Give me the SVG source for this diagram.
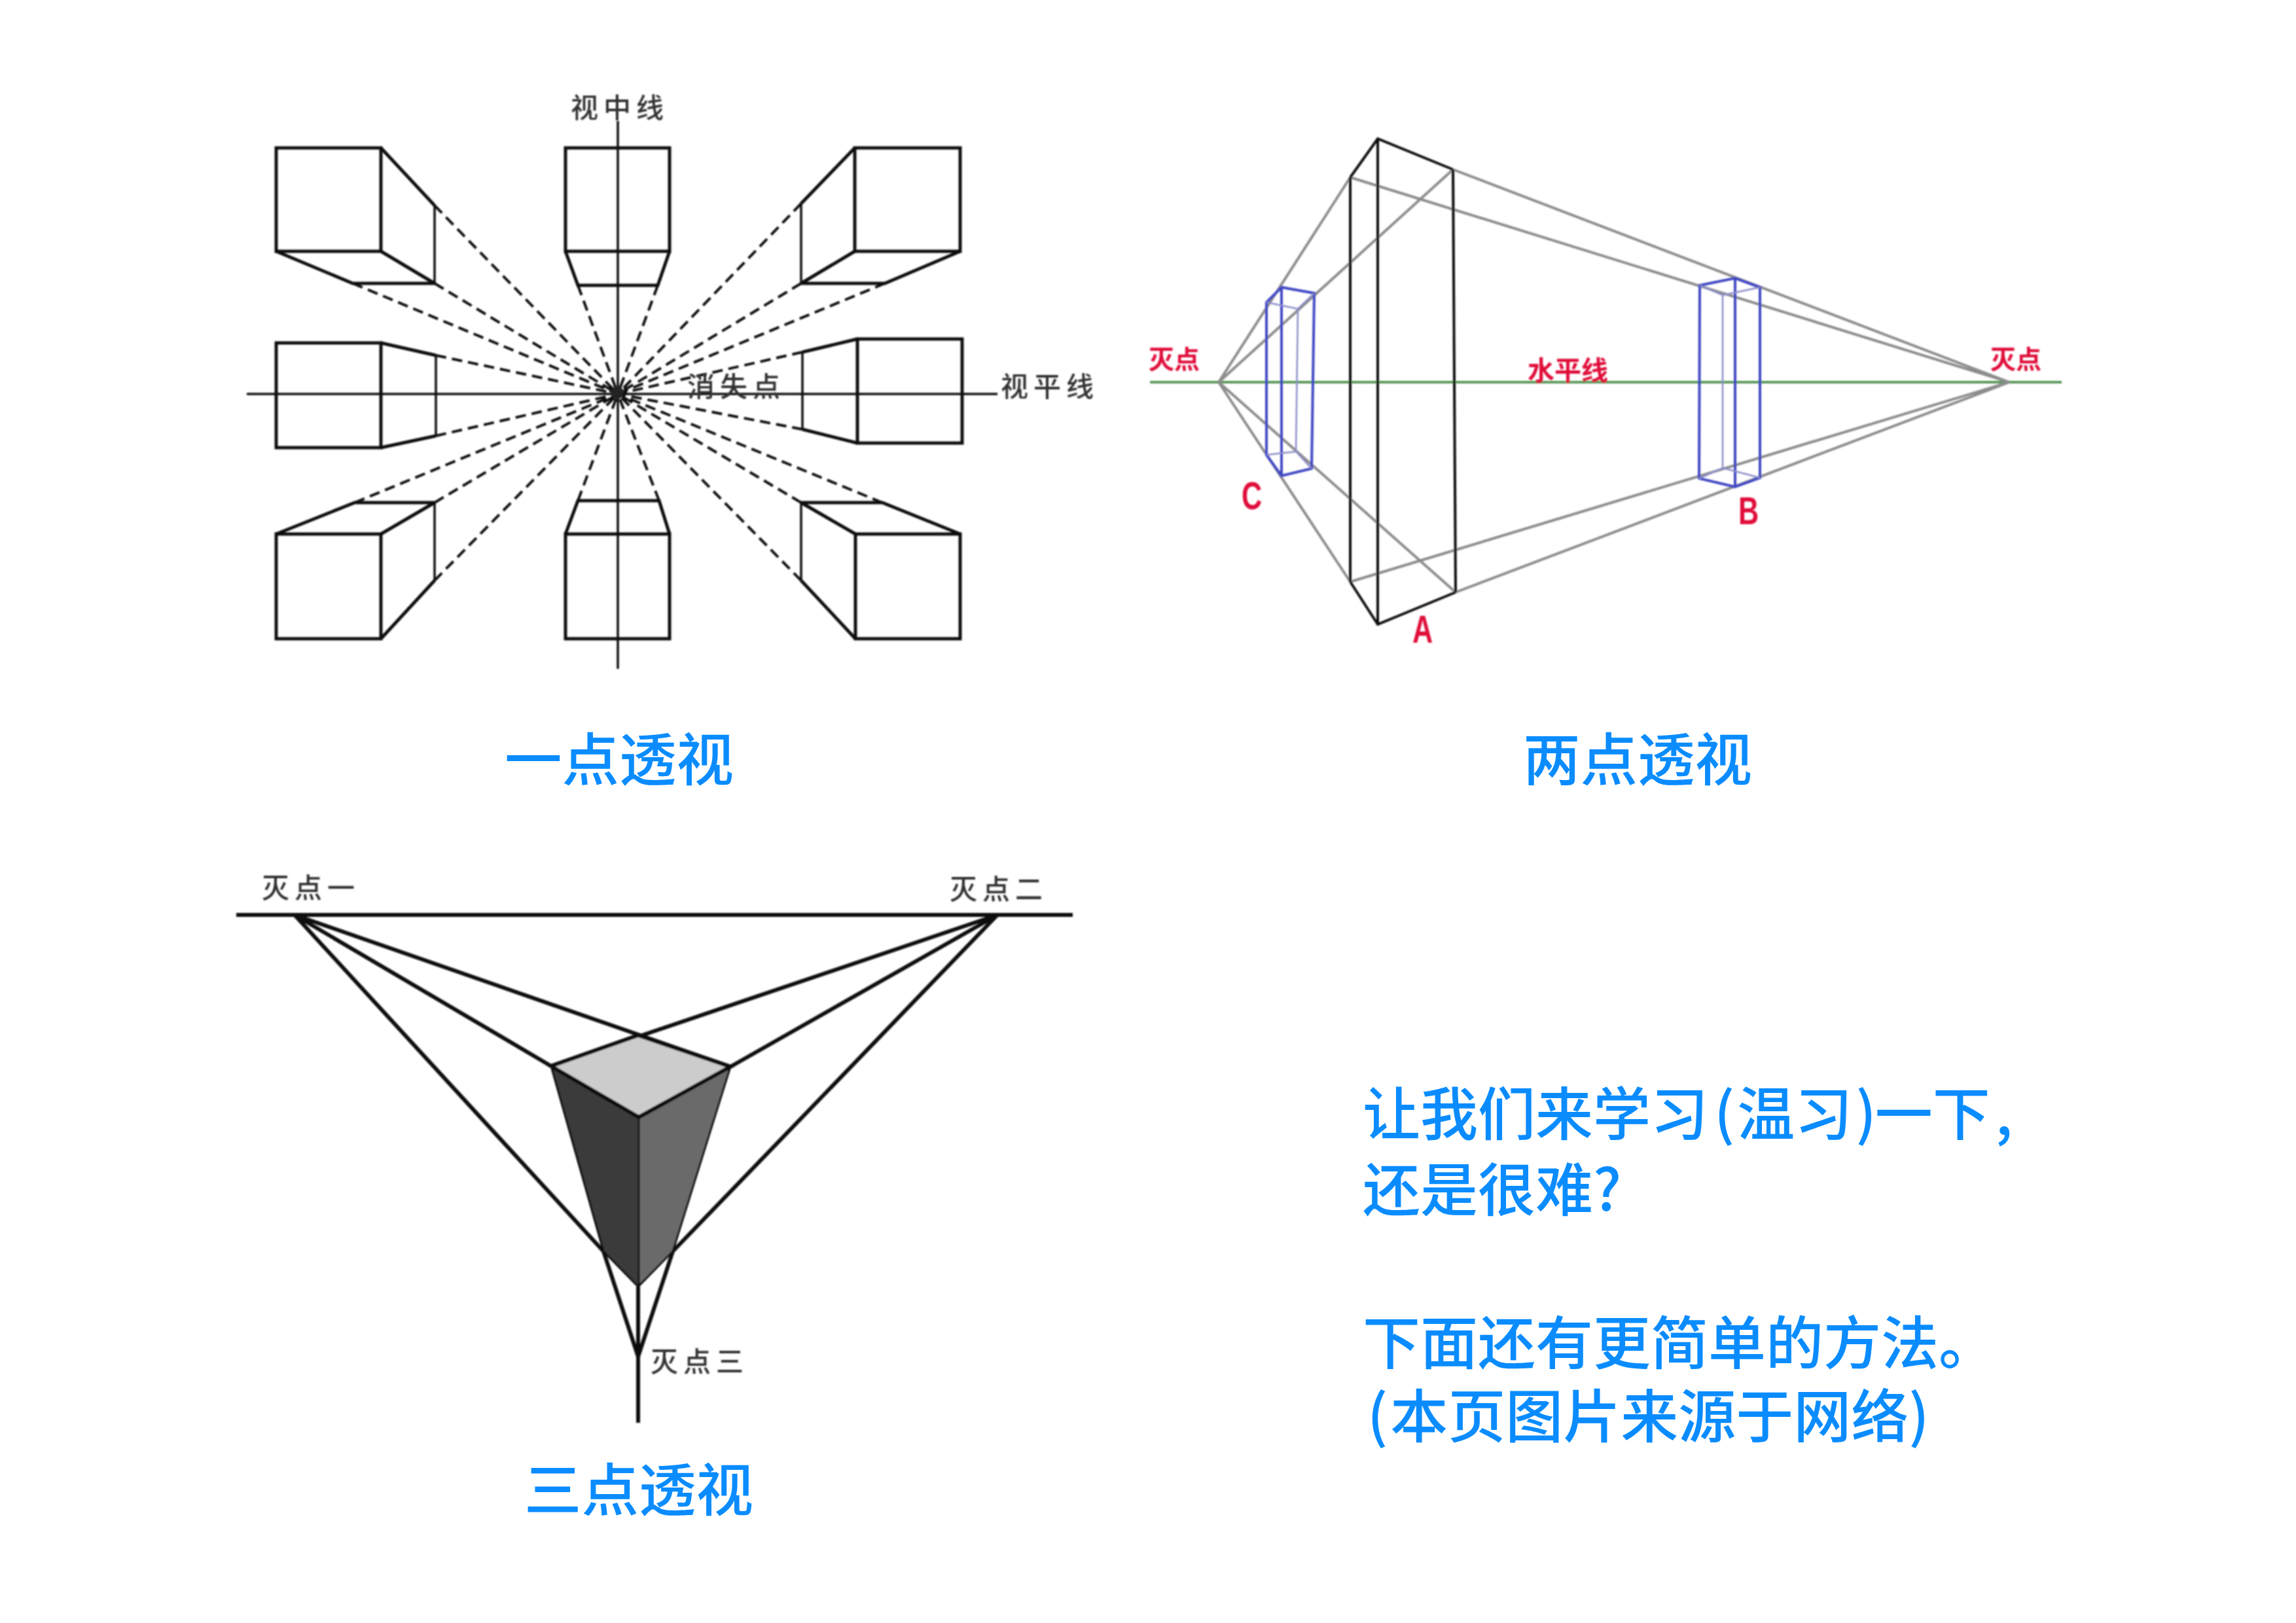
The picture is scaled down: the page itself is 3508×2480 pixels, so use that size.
<svg xmlns="http://www.w3.org/2000/svg" width="3508" height="2480" viewBox="0 0 3508 2480">
<defs><filter id="soft" x="-5%" y="-5%" width="110%" height="110%"><feGaussianBlur stdDeviation="0.8"/></filter></defs>
<style>
text{font-family:"Noto Sans CJK SC","Liberation Sans",sans-serif}
.title{font-size:87.5px;fill:#0a8cff;font-weight:500}
.note{font-size:88px;fill:#0a8cff;font-weight:500}
.g1{font-size:42px;fill:#333;letter-spacing:8px;font-weight:500}
.red{font-size:39px;fill:#e0103a;font-weight:700}
.az{font-family:"Liberation Sans",sans-serif;font-size:60px;fill:#e0103a;font-weight:700}
.k{fill:none;stroke:#111;stroke-width:5}
.t{fill:none;stroke:#111;stroke-width:3.5}
.d{fill:none;stroke:#111;stroke-width:4;stroke-dasharray:16 9}
.gr{fill:none;stroke:#8c8c8c;stroke-width:4}
.bk{fill:none;stroke:#111;stroke-width:4}
.bl{fill:none;stroke:#3f47c4;stroke-width:4}
.blt{fill:none;stroke:#8a8cc8;stroke-width:2.5}
.l3{fill:none;stroke:#0a0a0a;stroke-width:6}
</style>
<rect width="3508" height="2480" fill="#fff"/>
<g id="one-point" filter="url(#soft)">
<g id="one-point-connectors">
<path class="t" d="M377 602H1524M944 185V1022"/>
<path class="d" d="M664 314L944 602M664 433L944 602M539 433L944 602M883 436L944 602M1005 436L944 602M1224 311L944 602M1224 433L944 602M1352 433L944 602M666 543L944 602M666 666L944 602M1226 538L944 602M1226 656L944 602M664 768L944 602M664 887L944 602M542 768L944 602M883 765L944 602M1007 765L944 602M1224 768L944 602M1224 887L944 602M1348 768L944 602"/>
<circle cx="943" cy="600" r="10" fill="#222"/>
</g>
<g id="box-top-left"><rect class="k" x="422" y="226" width="160" height="158"/><path class="k" d="M582 226L664 314M582 384L664 433M422 384L539 433H664"/><path class="t" d="M664 314V433"/></g>
<g id="box-top-mid"><rect class="k" x="864" y="226" width="159" height="158"/><path class="k" d="M864 384L883 436H1005L1023 384"/></g>
<g id="box-top-right"><rect class="k" x="1306" y="226" width="161" height="158"/><path class="k" d="M1306 226L1224 311M1306 384L1224 433M1467 384L1352 433H1224"/><path class="t" d="M1224 311V433"/></g>
<g id="box-mid-left"><rect class="k" x="422" y="524" width="160" height="160"/><path class="k" d="M582 524L666 543M582 684L666 666"/><path class="t" d="M666 543V666"/></g>
<g id="box-mid-right"><rect class="k" x="1310" y="518" width="160" height="159"/><path class="k" d="M1310 518L1226 538M1310 677L1226 656"/><path class="t" d="M1226 538V656"/></g>
<g id="box-bottom-left"><rect class="k" x="422" y="816" width="160" height="160"/><path class="k" d="M582 976L664 887M582 816L664 768M422 816L542 768H664"/><path class="t" d="M664 768V887"/></g>
<g id="box-bottom-mid"><rect class="k" x="864" y="816" width="159" height="160"/><path class="k" d="M864 816L883 765H1007L1023 816"/></g>
<g id="box-bottom-right"><rect class="k" x="1307" y="816" width="160" height="160"/><path class="k" d="M1307 976L1224 887M1307 816L1224 768M1467 816L1348 768H1224"/><path class="t" d="M1224 768V887"/></g>
<text class="g1" x="872" y="180">视中线</text>
<text class="g1" x="1050" y="606">消失点</text>
<text class="g1" x="1529" y="606">视平线</text>
</g>
<g id="two-point" filter="url(#soft)">
<g id="two-point-connectors">
<path d="M1757 584H3150" fill="none" stroke="#5b9a5b" stroke-width="4"/>
<path class="gr" d="M1862 584L2063 271M1862 584L2220 259M1862 584L2063 889M1862 584L2224 905M3070 584L2220 259M3070 584L2063 271M3070 584L2063 889M3070 584L2224 905"/>
</g>
<g id="box-a"><path class="bk" d="M2063 271L2105 212L2220 259M2063 889L2105 954L2224 905M2063 271V889M2105 212V954M2220 259L2224 905"/></g>
<g id="box-b"><path class="bl" d="M2597 436L2651 425L2689 439V730L2651 744L2596 731ZM2651 425V744"/><path class="blt" d="M2597 436L2632 451L2689 439M2632 451V715M2596 731L2632 715L2689 730"/></g>
<g id="box-c"><path class="bl" d="M1935 462L1958 439L2008 448L2004 716L1958 727L1935 695ZM1958 439V727"/><path class="blt" d="M1935 462L1983 472L2008 448M1983 472L1980 690M1935 695L1980 690L2004 716"/></g>
<text class="red" x="1755" y="563">灭点</text>
<text class="red" x="3041" y="563">灭点</text>
<text class="red" x="2334" y="581" style="font-size:41px">水平线</text>
<text class="az" transform="translate(1897 778) scale(.72 1)">C</text>
<text class="az" transform="translate(2656 801) scale(.72 1)">B</text>
<text class="az" transform="translate(2158 982) scale(.72 1)">A</text>
</g>
<g id="three-point" filter="url(#soft)">
<g id="three-point-connectors">
<path class="l3" d="M361 1398H1639"/>
<path class="l3" d="M450 1398L1116 1630M450 1398L842 1629M450 1398L922 1912M1524 1398L842 1629M1524 1398L1116 1630M1524 1398L1028 1912M975 2073L922 1912M975 2073L1028 1912M975 1966V2174"/>
</g>
<g id="prism">
<polygon points="842,1629 976,1707 975,1966 922,1912" fill="#3a3a3a"/>
<polygon points="1116,1630 976,1707 975,1966 1028,1912" fill="#6a6a6a"/>
<polygon points="975,1582 1116,1630 976,1707 842,1629" fill="#cccccc"/>
<path class="l3" d="M975 1582L1116 1630L976 1707L842 1629Z"/>
<path d="M842 1629L922 1912L975 1966L1028 1912L1116 1630M976 1707V1966" fill="none" stroke="#111" stroke-width="3"/>
</g>
<text class="g1" x="400" y="1372">灭点一</text>
<text class="g1" x="1451" y="1374">灭点二</text>
<text class="g1" x="994" y="2096">灭点三</text>
</g>
<g id="captions">
<text class="title" x="771" y="1193">一点透视</text>
<text class="title" x="2327" y="1193">两点透视</text>
<text class="title" x="801" y="2309">三点透视</text>
</g>
<g id="note">
<text class="note" x="2082" y="1734">让我们来学习<tspan dx="9">(</tspan><tspan dx="4">温</tspan>习<tspan dx="5">)</tspan><tspan dx="-2">一</tspan>下<tspan dx="8">,</tspan></text>
<text class="note" x="2082" y="1850">还是很难?</text>
<text class="note" x="2082" y="2084">下面还有更简单的方法。</text>
<text class="note" x="2082" y="2196"><tspan dx="7">(</tspan><tspan dx="4">本</tspan>页图片来源于网络)</text>
</g>
</svg>
